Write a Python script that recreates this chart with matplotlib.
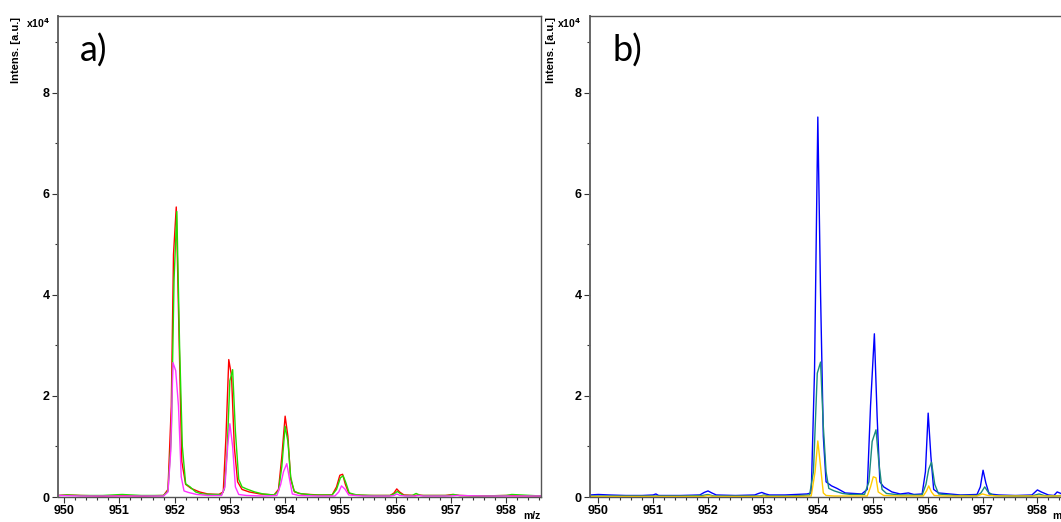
import matplotlib
matplotlib.use('Agg')
import matplotlib.pyplot as plt
from matplotlib.ticker import MultipleLocator, FormatStrFormatter

plt.rcParams['font.family'] = ['Liberation Sans', 'DejaVu Sans']
plt.rcParams['font.weight'] = 'bold'
plt.rcParams['mathtext.default'] = 'bf'

# Panel a) spectra (intensity in units of 1e4 a.u.)
red_mz = [949.9, 950.05, 950.3, 950.7, 951.05, 951.4, 951.8, 951.88, 951.94, 951.98,
          952.03, 952.08, 952.13, 952.2, 952.3, 952.45, 952.6, 952.8, 952.88, 952.93,
          952.98, 953.03, 953.08, 953.14, 953.22, 953.35, 953.55, 953.8, 953.88, 953.94,
          954.0, 954.05, 954.1, 954.17, 954.3, 954.6, 954.85, 954.93, 954.99, 955.04,
          955.09, 955.15, 955.25, 955.5, 955.9, 955.97, 956.02, 956.07, 956.15, 956.35,
          956.42, 956.5, 956.9, 957.03, 957.15, 957.5, 958.0, 958.63]
red_int = [0.03, 0.04, 0.03, 0.02, 0.03, 0.02, 0.03, 0.15, 1.8, 4.8,
           5.74, 3.2, 0.7, 0.25, 0.17, 0.1, 0.06, 0.05, 0.1, 1.2,
           2.72, 2.4, 1.0, 0.3, 0.15, 0.1, 0.06, 0.04, 0.15, 0.8,
           1.6, 1.2, 0.35, 0.1, 0.06, 0.04, 0.04, 0.2, 0.43, 0.45,
           0.25, 0.08, 0.04, 0.03, 0.03, 0.08, 0.16, 0.1, 0.04, 0.03,
           0.04, 0.03, 0.03, 0.05, 0.03, 0.02, 0.03, 0.02]

green_mz = [949.9, 950.05, 950.3, 950.7, 951.05, 951.4, 951.8, 951.88, 951.94, 951.99,
            952.04, 952.09, 952.14, 952.2, 952.28, 952.38, 952.5, 952.7, 952.85, 952.9,
            952.95, 953.0, 953.05, 953.1, 953.16, 953.22, 953.3, 953.45, 953.6, 953.8,
            953.88, 953.94, 954.0, 954.05, 954.1, 954.16, 954.25, 954.5, 954.85, 954.93,
            955.0, 955.05, 955.1, 955.16, 955.3, 955.6, 955.9, 955.97, 956.03, 956.08,
            956.15, 956.3, 956.37, 956.45, 956.6, 956.95, 957.05, 957.15, 957.5, 958.0,
            958.1, 958.63]
green_int = [0.03, 0.04, 0.03, 0.03, 0.05, 0.03, 0.03, 0.12, 1.2, 4.3,
             5.65, 3.0, 1.0, 0.26, 0.2, 0.1, 0.06, 0.05, 0.05, 0.15,
             0.9, 2.3, 2.52, 1.3, 0.35, 0.2, 0.16, 0.1, 0.06, 0.04,
             0.12, 0.6, 1.4, 1.1, 0.4, 0.12, 0.07, 0.04, 0.04, 0.15,
             0.38, 0.42, 0.28, 0.08, 0.04, 0.03, 0.03, 0.06, 0.11, 0.07,
             0.03, 0.03, 0.07, 0.03, 0.03, 0.03, 0.05, 0.03, 0.02, 0.03,
             0.05, 0.02]

mag_mz = [949.9, 950.3, 951.0, 951.5, 951.8, 951.88, 951.93, 951.97, 952.02, 952.07,
          952.12, 952.17, 952.25, 952.4, 952.6, 952.85, 952.91, 952.96, 953.0, 953.05,
          953.1, 953.16, 953.3, 953.6, 953.85, 953.92, 953.97, 954.03, 954.08, 954.13,
          954.25, 954.6, 954.9, 954.97, 955.02, 955.08, 955.15, 955.4, 955.9, 955.97,
          956.02, 956.08, 956.2, 956.35, 956.42, 956.5, 957.0, 957.1, 957.6, 958.63]
mag_int = [0.03, 0.02, 0.02, 0.02, 0.02, 0.1, 0.9, 2.66, 2.5, 1.8,
           0.4, 0.12, 0.09, 0.05, 0.03, 0.03, 0.2, 1.0, 1.45, 1.0,
           0.2, 0.05, 0.03, 0.02, 0.03, 0.25, 0.5, 0.66, 0.35, 0.06,
           0.03, 0.02, 0.02, 0.1, 0.22, 0.16, 0.04, 0.02, 0.02, 0.03,
           0.06, 0.03, 0.02, 0.02, 0.03, 0.02, 0.02, 0.03, 0.02, 0.02]

# Panel b) spectra
blue_mz = [949.85, 950.0, 950.2, 950.5, 950.8, 951.0, 951.05, 951.1, 951.5, 951.85,
           951.93, 952.0, 952.07, 952.15, 952.5, 952.85, 952.92, 952.98, 953.05, 953.12,
           953.4, 953.6, 953.8, 953.88, 953.94, 954.0, 954.05, 954.1, 954.15, 954.25,
           954.35, 954.5, 954.8, 954.9, 954.96, 955.03, 955.08, 955.13, 955.2, 955.35,
           955.5, 955.65, 955.75, 955.9, 955.96, 956.01, 956.06, 956.11, 956.2, 956.4,
           956.6, 956.9, 956.96, 957.01, 957.06, 957.12, 957.3, 957.6, 957.9, 958.0,
           958.07, 958.2, 958.3, 958.36, 958.45]
blue_int = [0.04, 0.05, 0.04, 0.03, 0.03, 0.04, 0.06, 0.03, 0.03, 0.04,
            0.09, 0.12, 0.08, 0.04, 0.03, 0.04, 0.07, 0.09, 0.06, 0.04,
            0.04, 0.05, 0.06, 0.08, 2.5, 7.52, 4.0, 1.2, 0.3, 0.22,
            0.17, 0.08, 0.06, 0.15, 1.8, 3.23, 1.6, 0.3, 0.2, 0.1,
            0.06, 0.08, 0.05, 0.06, 0.5, 1.66, 0.8, 0.15, 0.08, 0.06,
            0.04, 0.05, 0.2, 0.53, 0.28, 0.06, 0.04, 0.03, 0.04, 0.14,
            0.1, 0.04, 0.03, 0.1, 0.06]

teal_mz = [949.85, 950.2, 950.6, 951.0, 951.5, 951.9, 952.0, 952.1, 952.5, 952.95,
           953.02, 953.1, 953.5, 953.85, 953.92, 953.99, 954.05, 954.1, 954.15, 954.2,
           954.3, 954.45, 954.6, 954.85, 954.93, 954.99, 955.06, 955.11, 955.17, 955.25,
           955.5, 955.9, 955.97, 956.02, 956.07, 956.13, 956.2, 956.5, 956.9, 956.97,
           957.04, 957.1, 957.2, 957.5, 957.9, 958.03, 958.12, 958.3, 958.45]
teal_int = [0.02, 0.02, 0.02, 0.02, 0.02, 0.03, 0.05, 0.02, 0.02, 0.02,
            0.04, 0.02, 0.02, 0.04, 0.5, 2.45, 2.67, 1.4, 0.5, 0.17,
            0.12, 0.07, 0.05, 0.05, 0.3, 1.1, 1.33, 0.7, 0.15, 0.07,
            0.04, 0.04, 0.25, 0.55, 0.69, 0.25, 0.06, 0.03, 0.03, 0.08,
            0.2, 0.1, 0.03, 0.02, 0.02, 0.06, 0.03, 0.02, 0.03]

yel_mz = [949.85, 950.5, 951.0, 951.5, 951.9, 952.0, 952.1, 952.5, 952.95, 953.02,
          953.1, 953.5, 953.88, 953.95, 954.0, 954.05, 954.1, 954.15, 954.3, 954.6,
          954.9, 954.96, 955.01, 955.06, 955.1, 955.2, 955.5, 955.92, 955.98, 956.02,
          956.07, 956.12, 956.3, 956.9, 957.0, 957.1, 957.3, 958.0, 958.45]
yel_int = [0.01, 0.01, 0.01, 0.01, 0.01, 0.03, 0.01, 0.01, 0.01, 0.02,
           0.01, 0.01, 0.02, 0.5, 1.11, 0.6, 0.08, 0.03, 0.02, 0.02,
           0.02, 0.2, 0.4, 0.38, 0.1, 0.03, 0.02, 0.02, 0.12, 0.22,
           0.1, 0.03, 0.02, 0.02, 0.06, 0.03, 0.02, 0.02, 0.02]

fig = plt.figure(figsize=(10.61, 5.22), dpi=100)

W, H = 1061, 522


def setup_axes(left_px, right_px, xmin, xmax, panel_label):
    ax = fig.add_axes([left_px / W, 1 - 497 / H, (right_px - left_px) / W, (497 - 16) / H])
    ax.set_xlim(xmin, xmax)
    ax.set_ylim(0, 9.52)
    ax.xaxis.set_major_locator(MultipleLocator(1))
    ax.xaxis.set_minor_locator(MultipleLocator(0.2))
    ax.xaxis.set_major_formatter(FormatStrFormatter('%d'))
    ax.yaxis.set_major_locator(MultipleLocator(2))
    ax.yaxis.set_minor_locator(MultipleLocator(1))
    ax.yaxis.set_major_formatter(FormatStrFormatter('%d'))
    ax.tick_params(which='major', direction='out', length=4, width=0.8, color='#333333',
                   labelsize=9, pad=2)
    ax.tick_params(which='minor', direction='out', length=2.5, width=0.8, color='#333333')
    for side in ['top', 'right', 'bottom']:
        ax.spines[side].set_color('#555555')
        ax.spines[side].set_linewidth(1.0)
    ax.spines['left'].set_color('#666666')
    ax.spines['left'].set_linewidth(1.4)
    ax.text(0.046, 0.905, panel_label, transform=ax.transAxes, fontsize=26,
            family=['Lato', 'DejaVu Sans'], fontweight='normal', ha='left', va='baseline')
    return ax


ax1 = setup_axes(58, 541, 949.89, 958.63, 'a)')
ax1.plot(red_mz, red_int, color='#ff0000', lw=1.0)
ax1.plot(green_mz, green_int, color='#22dd00', lw=1.0)
ax1.plot(mag_mz, mag_int, color='#ff33ff', lw=1.0)

ax2 = setup_axes(590, 1072, 949.85, 958.63, 'b)')
ax2.plot(blue_mz, blue_int, color='#0000ff', lw=1.0)
ax2.plot(teal_mz, teal_int, color='#1a8a7e', lw=1.0)
ax2.plot(yel_mz, yel_int, color='#ffcc00', lw=1.0)

# axis annotations in the instrument style
for x_lab, x_exp, x_mz in [(16, 26, 523), (551, 557, 1052)]:
    fig.text(x_lab / W, 1 - 17 / H, 'Intens. [a.u.]', rotation=90, ha='center', va='top',
             fontsize=8)
    fig.text(x_exp / W, 1 - 28 / H, r'x10$^{4}$', ha='left', va='baseline', fontsize=7.5)
    fig.text(x_mz / W, 1 - 511 / H, 'm/z', ha='left', va='top', fontsize=7.5)

fig.savefig('out.png', dpi=100)
